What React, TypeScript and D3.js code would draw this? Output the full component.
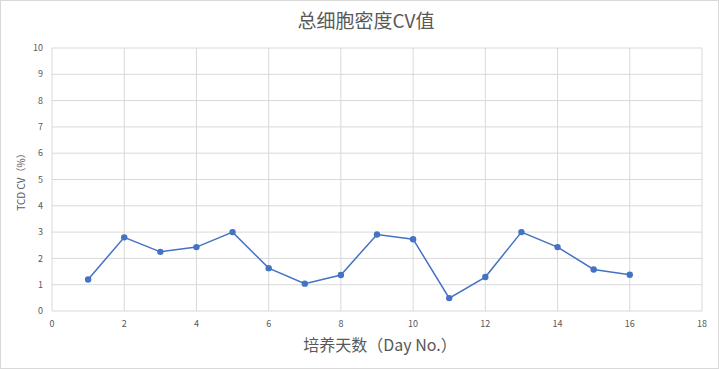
import React, { useEffect, useRef } from 'react';
import * as d3 from 'd3';

const days = [1, 2, 3, 4, 5, 6, 7, 8, 9, 10, 11, 12, 13, 14, 15, 16];
const cvValues = [1.2, 2.8, 2.25, 2.43, 3.0, 1.63, 1.04, 1.37, 2.91, 2.73, 0.49, 1.29, 3.0, 2.43, 1.58, 1.38];
const xTicks = [0, 2, 4, 6, 8, 10, 12, 14, 16, 18];
const yTicks = [0, 1, 2, 3, 4, 5, 6, 7, 8, 9, 10];

const title = '总细胞密度CV值';
const xLabel = '培养天数（Day No.）';
const yLabel = 'TCD CV（%）';

const W = 719;
const H = 369;
const FONT = '"Noto Sans CJK SC", "Noto Sans", sans-serif';

export default function App() {
  const svgRef = useRef<SVGSVGElement>(null);

  useEffect(() => {
    const svg = d3.select(svgRef.current);
    svg.selectAll('*').remove();

    const x = d3.scaleLinear().domain([0, 18]).range([52, 702]);
    const y = d3.scaleLinear().domain([0, 10]).range([311, 48]);

    // chart frame
    svg.append('rect')
      .attr('x', 0.5).attr('y', 0.5)
      .attr('width', W - 1).attr('height', H - 1)
      .attr('fill', '#fff')
      .attr('stroke', '#d9d9d9');

    // gridlines
    svg.append('g')
      .selectAll('line')
      .data(yTicks)
      .join('line')
      .attr('x1', x(0)).attr('x2', x(18))
      .attr('y1', d => y(d)).attr('y2', d => y(d))
      .attr('stroke', '#d9d9d9');

    svg.append('g')
      .selectAll('line')
      .data(xTicks)
      .join('line')
      .attr('x1', d => x(d)).attr('x2', d => x(d))
      .attr('y1', y(0)).attr('y2', y(10))
      .attr('stroke', '#d9d9d9');

    // tick labels
    svg.append('g')
      .selectAll('text')
      .data(yTicks)
      .join('text')
      .attr('x', 43).attr('y', d => y(d))
      .attr('dy', '0.35em')
      .attr('text-anchor', 'end')
      .attr('font-size', 9)
      .attr('font-family', FONT)
      .attr('fill', '#595959')
      .text(d => d);

    svg.append('g')
      .selectAll('text')
      .data(xTicks)
      .join('text')
      .attr('x', d => x(d)).attr('y', 327)
      .attr('text-anchor', 'middle')
      .attr('font-size', 9)
      .attr('font-family', FONT)
      .attr('fill', '#595959')
      .text(d => d);

    // series
    const pts = days.map((d, i) => [d, cvValues[i]] as [number, number]);
    const line = d3.line<[number, number]>()
      .x(d => x(d[0]))
      .y(d => y(d[1]));

    svg.append('path')
      .datum(pts)
      .attr('d', line)
      .attr('fill', 'none')
      .attr('stroke', '#4472c4')
      .attr('stroke-width', 1.5);

    svg.append('g')
      .selectAll('circle')
      .data(pts)
      .join('circle')
      .attr('cx', d => x(d[0]))
      .attr('cy', d => y(d[1]))
      .attr('r', 3.2)
      .attr('fill', '#4472c4');

    // titles
    svg.append('text')
      .attr('x', 366).attr('y', 28)
      .attr('text-anchor', 'middle')
      .attr('font-size', 19)
      .attr('font-family', FONT)
      .attr('fill', '#595959')
      .text(title);

    svg.append('text')
      .attr('x', 380).attr('y', 351)
      .attr('text-anchor', 'middle')
      .attr('font-size', 16)
      .attr('font-family', FONT)
      .attr('fill', '#595959')
      .text(xLabel);

    svg.append('text')
      .attr('transform', `translate(25, ${y(5)}) rotate(-90)`)
      .attr('text-anchor', 'middle')
      .attr('font-size', 10)
      .attr('font-family', FONT)
      .attr('fill', '#595959')
      .text(yLabel);
  }, []);

  return (
    <>
      <style>{'body{margin:0}'}</style>
      <svg ref={svgRef} width={W} height={H} style={{ display: 'block' }}></svg>
    </>
  );
}
